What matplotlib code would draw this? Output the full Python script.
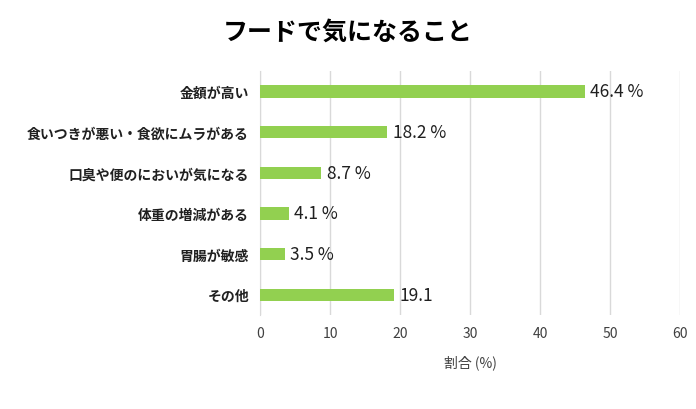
import matplotlib

matplotlib.use("Agg")

import matplotlib.pyplot as plt
import numpy as np

FONT = "Noto Sans CJK JP"
GREEN = "#92d050"
GRID = "#d9d9d9"

categories = ["金額が高い", "食いつきが悪い・食欲にムラがある", "口臭や便のにおいが気になる",
              "体重の増減がある", "胃腸が敏感", "その他"]
values = [46.4, 18.2, 8.7, 4.1, 3.5, 19.1]
value_labels = ["46.4 %", "18.2 %", "8.7 %", "4.1 %", "3.5 %", "19.1"]
xticks = [0, 10, 20, 30, 40, 50, 60]

plt.rcParams["font.family"] = FONT

fig = plt.figure(figsize=(6.96, 4.10), dpi=100, facecolor="white")
ax = fig.add_axes([0.3736, 0.229, 0.6034, 0.595])

y = np.arange(len(categories))
bars = ax.barh(y, values, height=0.3, color=GREEN, zorder=3)
ax.set_ylim(len(categories) - 0.5, -0.5)
ax.set_xlim(0, 60)
ax.set_xticks(xticks)
ax.set_xticklabels([str(t) for t in xticks], fontsize=10, color="#404040")
ax.set_yticks(y)
ax.set_yticklabels(categories, fontsize=10, fontweight="bold", color="#202020")
ax.tick_params(length=0, pad=8)
ax.grid(axis="x", color=GRID, linewidth=1, zorder=0)
for side in ["top", "right", "bottom"]:
    ax.spines[side].set_visible(False)
ax.spines["left"].set_color(GRID)

for bar, lab in zip(bars, value_labels):
    ax.text(bar.get_width() + 0.8, bar.get_y() + bar.get_height() / 2, lab,
            va="center", ha="left", fontsize=12.5, color="#202020")

ax.set_xlabel("割合 (%)", fontsize=10, color="#404040", labelpad=10)
fig.suptitle("フードで気になること", fontsize=18, fontweight="bold", x=0.5, y=0.95)

fig.savefig("out.png", dpi=100, facecolor="white")
